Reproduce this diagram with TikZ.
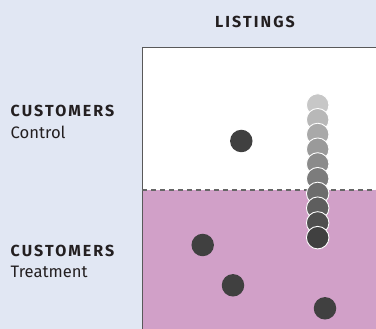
\documentclass[tikz,border=0pt]{standalone}
\usepackage{fontspec}
\setmainfont{Fira Sans}
\newfontfamily\headfont[LetterSpace=13]{Fira Sans}
\definecolor{bgc}{HTML}{E1E7F3}
\definecolor{purp}{HTML}{D1A0C8}
\definecolor{dotc}{HTML}{404040}
\definecolor{txt}{HTML}{231F20}
\begin{document}
\begin{tikzpicture}[x=1pt,y=-1pt,
  dot/.style={circle,fill=dotc,minimum size=22.5pt,inner sep=0pt},
  sdot/.style={circle,draw=white,line width=0.9pt,minimum size=22.5pt,inner sep=0pt},
  head/.style={font=\headfont\bfseries\fontsize{16}{18}\selectfont,text=txt,inner sep=0pt},
  sub/.style={font=\fontsize{16.6}{18}\selectfont,text=txt,inner sep=0pt}]
\fill[bgc] (0,0) rectangle (376,329);
\useasboundingbox (0,0) rectangle (376,329);
\fill[white] (142,47.5) rectangle (376,190);
\fill[purp] (142,190) rectangle (376,329);
\draw[gray!70!black,line width=0.9pt] (376,47.5) -- (142,47.5) -- (142,329);
\draw[dotc!80,line width=1.2pt,dash pattern=on 5pt off 4pt] (142,190) -- (376,190);
\node[head,anchor=base] (listings) at (255,27.5) {LISTINGS};
\node[head,anchor=base west] (c1) at (10.5,116.7) {CUSTOMERS};
\node[sub,anchor=base west] (c1s) at (10.5,138.5) {Control};
\node[head,anchor=base west] (c2) at (10.5,256.7) {CUSTOMERS};
\node[sub,anchor=base west] (c2s) at (10.5,278) {Treatment};
\node[dot] (d0) at (241.3,141) {};
\node[dot] (d1) at (202.7,245) {};
\node[dot] (d2) at (233,285.3) {};
\node[dot] (d3) at (325,308.3) {};
\foreach \i in {0,...,9}{
  \pgfmathsetmacro{\g}{78-\i*(78-25)/9}
  \colorlet{sc}{white!\g!black}
  \node[sdot,fill=sc] (s\i) at (317.7,105+\i*14.74) {};
}
\end{tikzpicture}
\end{document}
